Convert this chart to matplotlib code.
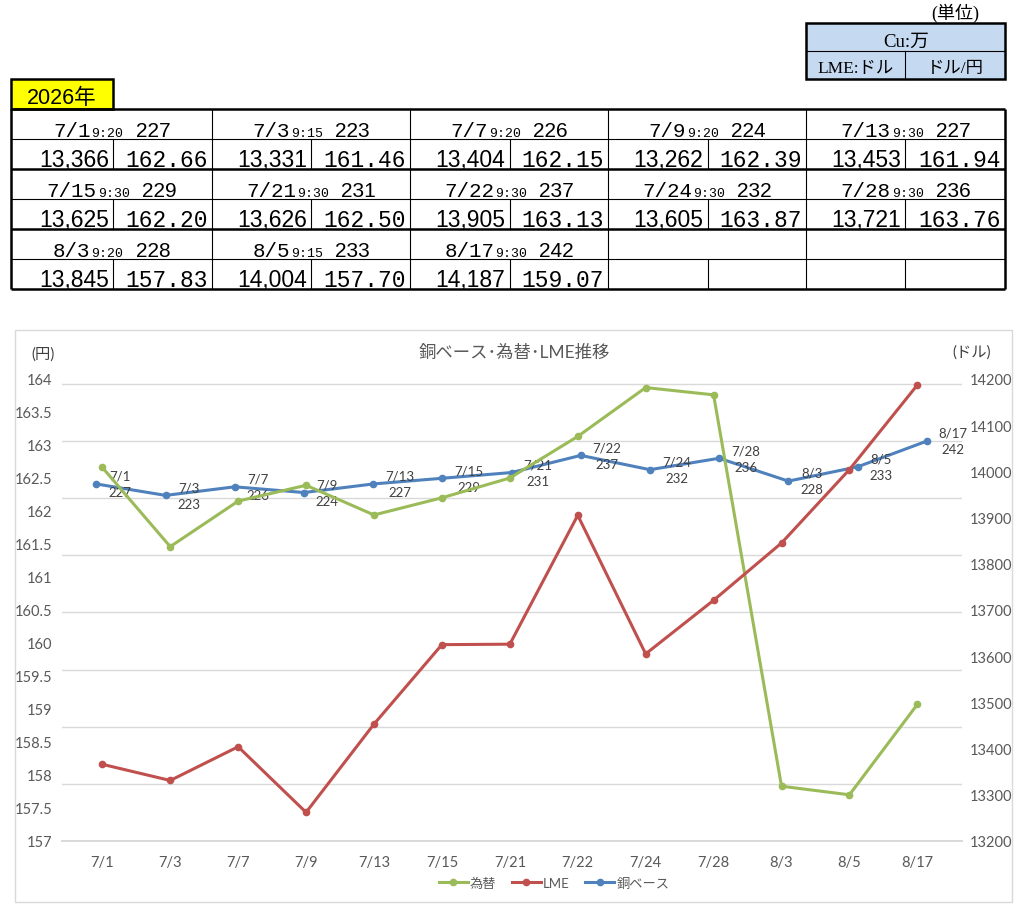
import matplotlib
matplotlib.use('Agg')
import matplotlib.pyplot as plt
import numpy as np
from matplotlib.patches import Rectangle

# ---------------- data ----------------
dates = ["7/1", "7/3", "7/7", "7/9", "7/13", "7/15", "7/21", "7/22", "7/24", "7/28", "8/3", "8/5", "8/17"]
times = ["9:20", "9:15", "9:20", "9:20", "9:30", "9:30", "9:30", "9:30", "9:30", "9:30", "9:20", "9:15", "9:30"]
cu_base = [227, 223, 226, 224, 227, 229, 231, 237, 232, 236, 228, 233, 242]
lme = [13366, 13331, 13404, 13262, 13453, 13625, 13626, 13905, 13605, 13721, 13845, 14004, 14187]
fx = [162.66, 161.46, 162.15, 162.39, 161.94, 162.20, 162.50, 163.13, 163.87, 163.76, 157.83, 157.70, 159.07]
year_label = "2026年"
title = "銅ベース･為替･LME推移"
series_names = ["為替", "LME", "銅ベース"]

GREEN = "#9BBB59"
RED = "#C0504D"
BLUE = "#4F81BD"
GRID = "#D9D9D9"
TXT = "#595959"

plt.rcParams['font.family'] = ['Lato', 'Noto Sans CJK JP', 'DejaVu Sans']

W, H = 1036, 920
fig = plt.figure(figsize=(W / 100, H / 100), dpi=100)
fig.patch.set_facecolor('white')

# overlay axes in pixel coordinates for table / frame
ov = fig.add_axes([0, 0, 1, 1])
ov.set_xlim(0, W)
ov.set_ylim(H, 0)
ov.axis('off')

# ---------------- table ----------------
MONO = ['Liberation Mono', 'Noto Sans CJK JP']
SANS = ['Liberation Sans', 'Noto Sans CJK JP']
SERIF = ['Liberation Serif', 'Noto Sans CJK JP']

block_edges = [11, 212.3, 410.3, 608.3, 806.3, 1005]
sub_splits = [113.3, 311.3, 509.7, 707.7, 905.3]
row_top = 110
row_h = 30
n_blocks_rows = 3

# yellow year box
ov.add_patch(Rectangle((11, 80), 102.3, 30, facecolor='#FFFF00', edgecolor='black', lw=1.8, zorder=2))
ov.text(62, 103.5, year_label, fontsize=15.5, family=SANS, ha='center', va='baseline', zorder=3)

# table lines
tbl_bottom = row_top + row_h * 2 * n_blocks_rows
for r in range(n_blocks_rows * 2 + 1):
    y = row_top + r * row_h
    lw = 1.8 if r % 2 == 0 else 0.8
    ov.plot([block_edges[0], block_edges[-1]], [y, y], color='black', lw=lw, zorder=2, solid_capstyle='butt')
for i, xe in enumerate(block_edges):
    lw = 1.8 if i in (0, len(block_edges) - 1) else 0.8
    ov.plot([xe, xe], [row_top, tbl_bottom], color='black', lw=lw, zorder=2, solid_capstyle='butt')
for br in range(n_blocks_rows):
    y0 = row_top + (2 * br + 1) * row_h
    for xs in sub_splits:
        ov.plot([xs, xs], [y0, y0 + row_h], color='black', lw=0.8, zorder=2, solid_capstyle='butt')

renderer = fig.canvas.get_renderer()
for k in range(len(dates)):
    br, c = divmod(k, 5)
    x0, x1 = block_edges[c], block_edges[c + 1]
    cx = (x0 + x1) / 2
    yh = row_top + 2 * br * row_h + 27.3
    t1 = ov.text(0, yh, dates[k], fontsize=15, family=MONO, va='baseline', ha='left', zorder=3)
    t2 = ov.text(0, yh, times[k], fontsize=9.5, family=MONO, va='baseline', ha='left', zorder=3)
    t3 = ov.text(0, yh, str(cu_base[k]), fontsize=15, family=SANS, va='baseline', ha='left', zorder=3)
    w1 = t1.get_window_extent(renderer).width
    w2 = t2.get_window_extent(renderer).width
    w3 = t3.get_window_extent(renderer).width
    g1, g2 = 1, 12
    total = w1 + g1 + w2 + g2 + w3
    s = cx - total / 2
    t1.set_x(s)
    t2.set_x(s + w1 + g1)
    t3.set_x(s + w1 + g1 + w2 + g2)
    yd = row_top + (2 * br + 1) * row_h + 26.7
    ov.text(sub_splits[c] - 4.3, yd, f"{lme[k]:,}", fontsize=16.5, family=SANS, ha='right', va='baseline', zorder=3)
    ov.text(x1 - 4, yd, f"{fx[k]:.2f}", fontsize=16.5, family=MONO, ha='right', va='baseline', zorder=3)

# unit box
ov.add_patch(Rectangle((805.7, 24), 199.3, 56, facecolor='#C5D9F1', edgecolor='black', lw=1.8, zorder=2))
ov.plot([805.7, 1005], [52.3, 52.3], color='black', lw=0.8, zorder=2)
ov.plot([905.3, 905.3], [52.3, 80], color='black', lw=0.8, zorder=2)
ov.text(906, 42, "Cu:万", fontsize=13.5, family=SERIF, ha='center', va='center', zorder=3)
ov.text(856, 69.5, "LME:ドル", fontsize=12.5, family=SERIF, ha='center', va='center', zorder=3)
ov.text(955, 69.5, "ドル/円", fontsize=12.5, family=SERIF, ha='center', va='center', zorder=3)
ov.text(955, 13.7, "(単位)", fontsize=13, family=SERIF, ha='center', va='center', zorder=3)

# ---------------- chart frame ----------------
ov.add_patch(Rectangle((15.3, 330.7), 996.4, 572.3, facecolor='white', edgecolor=GRID, lw=1, zorder=1))
ov.text(513.8, 353, title, fontsize=12.5, color=TXT, ha='center', va='center', zorder=3)
ov.text(42.8, 355, "(円)", fontsize=11, color='#404040', ha='center', va='center', zorder=3)
ov.text(972, 353, "(ドル)", fontsize=11, color='#404040', ha='center', va='center', zorder=3)

px_left, px_right, px_top, px_bot = 62.3, 961.7, 380, 842
rect = [px_left / W, 1 - px_bot / H, (px_right - px_left) / W, (px_bot - px_top) / H]
x = np.arange(len(dates))

# blue (copper base) on hidden axis, owns the gridlines
ax_b = fig.add_axes(rect)
ax_b.patch.set_visible(False)
ax_b.set_xlim(-0.4917, 12.505)
ax_b.set_ylim(102, 263.75)
ax_b.set_yticks(np.arange(102, 263, 20))
ax_b.yaxis.grid(True, color=GRID, lw=1)
ax_b.set_axisbelow(True)
ax_b.tick_params(left=False, labelleft=False, bottom=False, labelbottom=False)
for sp in ['left', 'right', 'top']:
    ax_b.spines[sp].set_visible(False)
ax_b.spines['bottom'].set_color(GRID)
ax_b.spines['bottom'].set_linewidth(1.4)
lb, = ax_b.plot(x, cu_base, color=BLUE, lw=2.2, marker='o', ms=4.5, label=series_names[2])
for i in range(len(dates)):
    ax_b.annotate(f"{dates[i]}\n{cu_base[i]}", (x[i], cu_base[i]), xytext=(12, 0),
                  textcoords='offset pixels', ha='left', va='center', multialignment='center',
                  fontsize=9.5, color='#404040', linespacing=1.45)

# green (fx) on left axis
ax = fig.add_axes(rect, frameon=False)
ax.set_xlim(-0.589, 12.653)
ax.set_ylim(157, 164)
yt = np.arange(157, 164.01, 0.5)
ax.set_yticks(yt)
ax.set_yticklabels([f"{v:g}" for v in yt])
ax.set_xticks(x)
ax.set_xticklabels(dates)
ax.tick_params(axis='y', length=0, pad=7, labelsize=10.5, labelcolor=TXT)
ax.tick_params(axis='x', length=0, pad=10, labelsize=10.5, labelcolor=TXT)
lg, = ax.plot(x, fx, color=GREEN, lw=2.2, marker='o', ms=4.5, label=series_names[0])

# red (LME) on right axis
ax_r = ax.twinx()
ax_r.set_frame_on(False)
ax_r.set_ylim(13200, 14200)
ax_r.set_yticks(np.arange(13200, 14201, 100))
ax_r.tick_params(axis='y', length=0, pad=6, labelsize=10.5, labelcolor=TXT)
lr, = ax_r.plot(x, lme, color=RED, lw=2.2, marker='o', ms=4.5, label=series_names[1])

leg = ax_r.legend(handles=[lg, lr, lb], loc='center', bbox_to_anchor=(554 / W, 1 - 884 / H),
                  bbox_transform=fig.transFigure, ncol=3, frameon=False, fontsize=9.5,
                  handlelength=2.2, handletextpad=0.15, columnspacing=1.2, borderpad=0)
for t in leg.get_texts():
    t.set_color(TXT)

fig.savefig("out.png", dpi=100, facecolor='white')
